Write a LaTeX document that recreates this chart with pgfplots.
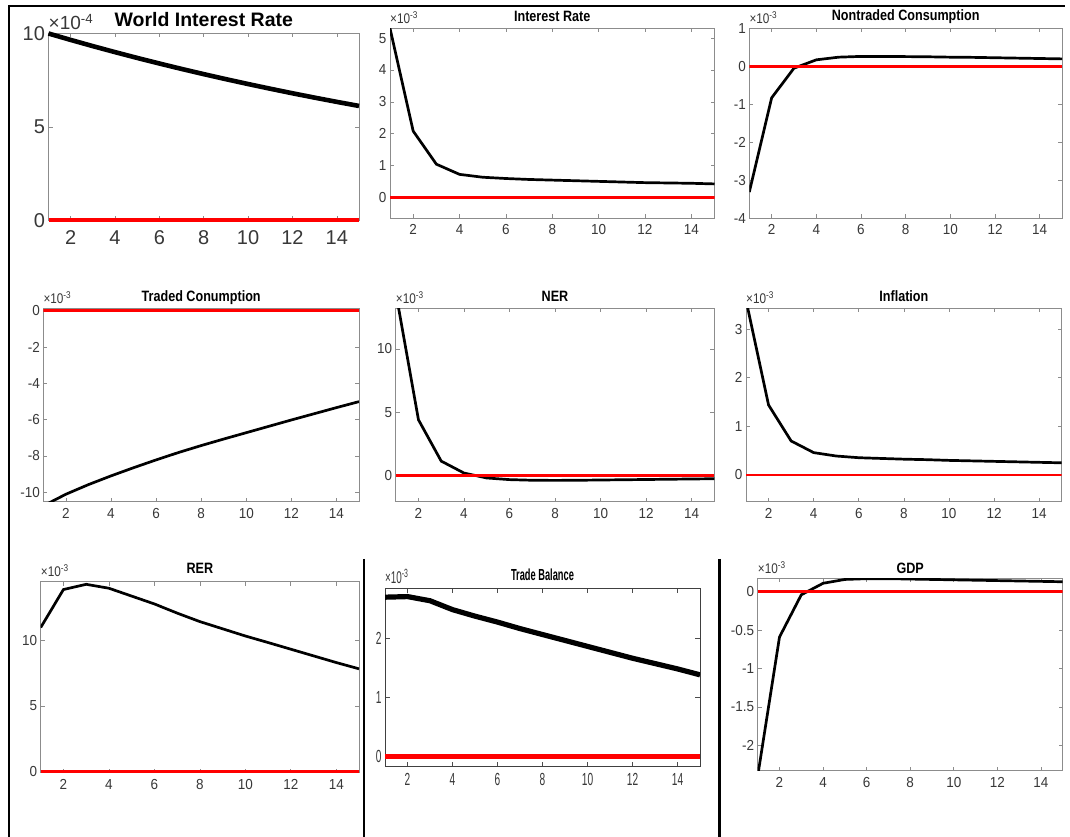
\documentclass[border=0pt]{standalone}
\usepackage{fontspec}
\usepackage{pgfplots}
\pgfplotsset{compat=1.18}
\setmainfont{Liberation Sans}
\newfontfamily\tickfont[FakeStretch=0.93]{Liberation Sans}
\newfontfamily\titlefont[FakeStretch=0.84]{Liberation Sans}
\newfontfamily\condfont[FakeStretch=0.58]{Liberation Sans}

\definecolor{axgray}{gray}{0.55}
\definecolor{lblgray}{gray}{0.22}

% Impulse responses, one table per panel (values in units of the exponent shown on each panel)
\pgfplotstableread{
t  v
1  10.000
2  9.656
3  9.324
4  9.003
5  8.693
6  8.394
7  8.105
8  7.826
9  7.557
10 7.297
11 7.046
12 6.803
13 6.569
14 6.343
15 6.125
}\worldrate
\pgfplotstableread{
t  v
1  5.31
2  2.08
3  1.04
4  0.72
5  0.63
6  0.59
7  0.56
8  0.54
9  0.52
10 0.50
11 0.48
12 0.46
13 0.45
14 0.44
15 0.42
}\intrate
\pgfplotstableread{
t  v
1  -3.31
2  -0.83
3  -0.05
4  0.17
5  0.24
6  0.26
7  0.26
8  0.255
9  0.25
10 0.24
11 0.235
12 0.225
13 0.215
14 0.205
15 0.195
}\nontraded
\pgfplotstableread{
t  v
1  -10.75
2  -10.11
3  -9.58
4  -9.10
5  -8.65
6  -8.22
7  -7.81
8  -7.43
9  -7.07
10 -6.72
11 -6.37
12 -6.02
13 -5.68
14 -5.34
15 -5.01
}\traded
\pgfplotstableread{
t  v
1  14.5
2  4.41
3  1.15
4  0.21
5  -0.18
6  -0.31
7  -0.36
8  -0.37
9  -0.36
10 -0.34
11 -0.32
12 -0.30
13 -0.28
14 -0.26
15 -0.24
}\ner
\pgfplotstableread{
t  v
1  3.60
2  1.44
3  0.70
4  0.46
5  0.39
6  0.355
7  0.34
8  0.325
9  0.315
10 0.30
11 0.29
12 0.28
13 0.27
14 0.26
15 0.25
}\inflation
\pgfplotstableread{
t  v
1  11.0
2  13.9
3  14.3
4  14.0
5  13.4
6  12.8
7  12.1
8  11.45
9  10.9
10 10.35
11 9.85
12 9.34
13 8.83
14 8.32
15 7.84
}\rer
\pgfplotstableread{
t  v
1  2.69
2  2.70
3  2.63
4  2.48
5  2.37
6  2.27
7  2.16
8  2.06
9  1.96
10 1.86
11 1.76
12 1.66
13 1.57
14 1.48
15 1.38
}\tradebal
\pgfplotstableread{
t  v
1  -2.40
2  -0.59
3  -0.04
4  0.11
5  0.16
6  0.17
7  0.17
8  0.165
9  0.16
10 0.155
11 0.15
12 0.145
13 0.14
14 0.135
15 0.13
}\gdp
\pgfplotstableread{
t  v
1  0
15 0
}\zeroline

\pgfplotsset{
  irf/.style={
    scale only axis,
    anchor=south west,
    clip mode=individual,
    xmin=1, xmax=15,
    xtick={2,4,...,14},
    xticklabels={2,4,6,8,10,12,14},
    tick align=inside,
    major tick length=4pt,
    every tick/.style={axgray, line width=0.6pt},
    axis line style={axgray, line width=0.8pt},
    ticklabel style={text=lblgray, font=\fontsize{14.5}{15}\tickfont},
    xticklabel style={yshift=-3pt},
  },
  resp/.style={black, line width=2.7pt},
  zero/.style={red, line width=2.7pt},
}
\newcommand{\ptitle}[2][6.5]{\node[anchor=base, inner sep=0pt, font=\fontsize{15}{16}\titlefont\bfseries] at (rel axis cs:0.5,1) [yshift=#1pt] {#2};}
\newcommand{\pexp}[1]{\node[anchor=base west, inner sep=0pt, text=lblgray, font=\fontsize{14}{15}\titlefont] at (rel axis cs:0,1) [yshift=5pt] {×10\textsuperscript{#1}};}

\begin{document}
\begin{tikzpicture}
\useasboundingbox (0pt,0pt) rectangle (1070pt,837pt);
\fill[white] (0pt,0pt) rectangle (1070pt,837pt);

% table rules
\draw[black, line width=1.2pt] (8pt,831pt) -- (1065pt,831pt);
\foreach \a/\b in {8/22, 360/377, 715/732, 1055/1065}
  \draw[black, line width=2.6pt] (\a pt,831pt) -- (\b pt,831pt);
\draw[black, line width=2.2pt] (9pt,832pt) -- (9pt,0pt);
\draw[black, line width=2.6pt] (364pt,278pt) -- (364pt,0pt);
\draw[black, line width=2.6pt] (719.5pt,278pt) -- (719.5pt,0pt);

% ---------- World Interest Rate ----------
\begin{axis}[irf, at={(48.5pt,616.5pt)}, width=310.5pt, height=187pt,
  ymin=0, ymax=10, ytick={0,5,10}, yticklabels={0,5,10},
  ticklabel style={font=\fontsize{20}{21}\selectfont},
  xticklabel style={yshift=-4pt}, clip=false]
\addplot[black, line width=4.6pt] table[x=t, y=v] {\worldrate};
\addplot[red, line width=4pt] table[x=t, y=v] {\zeroline};
\node[anchor=base, inner sep=0pt, font=\fontsize{19.5}{20}\selectfont\bfseries] at (rel axis cs:0.5,1) [yshift=6.8pt] {World Interest Rate};
\node[anchor=base west, inner sep=0pt, text=lblgray, font=\fontsize{19}{20}\selectfont] at (rel axis cs:0,1) [yshift=3.5pt] {×10\textsuperscript{-4}};
\end{axis}

% ---------- Interest Rate ----------
\begin{axis}[irf, at={(390pt,618.7pt)}, width=324.5pt, height=190pt,
  ymin=-0.66, ymax=5.31, ytick={0,...,5}, yticklabels={0,1,2,3,4,5}]
\addplot[resp] table[x=t, y=v] {\intrate};
\addplot[zero] table[x=t, y=v] {\zeroline};
\ptitle{Interest Rate}
\pexp{-3}
\end{axis}

% ---------- Nontraded Consumption ----------
\begin{axis}[irf, at={(749.3pt,618.7pt)}, width=312.7pt, height=190pt,
  ymin=-4, ymax=1, ytick={-4,...,1}, yticklabels={-4,-3,-2,-1,0,1}]
\addplot[resp] table[x=t, y=v] {\nontraded};
\addplot[zero] table[x=t, y=v] {\zeroline};
\ptitle[7.3]{Nontraded Consumption}
\pexp{-3}
\end{axis}

% ---------- Traded Consumption ----------
\begin{axis}[irf, at={(43.3pt,335.3pt)}, width=315.7pt, height=193.4pt,
  ymin=-10.52, ymax=0.13, ytick={-10,-8,...,0}, yticklabels={-10,-8,-6,-4,-2,0}]
\addplot[resp] table[x=t, y=v] {\traded};
\addplot[zero] table[x=t, y=v] {\zeroline};
\ptitle{Traded Conumption}
\pexp{-3}
\end{axis}

% ---------- NER ----------
\begin{axis}[irf, at={(395.7pt,335.3pt)}, width=318.6pt, height=193.4pt,
  ymin=-2.05, ymax=13.2, ytick={0,5,10}, yticklabels={0,5,10}]
\addplot[resp] table[x=t, y=v] {\ner};
\addplot[zero] table[x=t, y=v] {\zeroline};
\ptitle{NER}
\pexp{-3}
\end{axis}

% ---------- Inflation ----------
\begin{axis}[irf, at={(746pt,335.3pt)}, width=315.7pt, height=193.4pt,
  ymin=-0.55, ymax=3.43, ytick={0,...,3}, yticklabels={0,1,2,3}]
\addplot[resp] table[x=t, y=v] {\inflation};
\addplot[zero] table[x=t, y=v] {\zeroline};
\ptitle{Inflation}
\pexp{-3}
\end{axis}

% ---------- RER ----------
\begin{axis}[irf, at={(40.7pt,64.3pt)}, width=318.3pt, height=191pt,
  ymin=-0.1, ymax=14.5, ytick={0,5,10}, yticklabels={0,5,10}]
\addplot[resp] table[x=t, y=v] {\rer};
\addplot[zero] table[x=t, y=v] {\zeroline};
\ptitle[8.4]{RER}
\pexp{-3}
\end{axis}

% ---------- Trade Balance ----------
\begin{axis}[irf, at={(385pt,70.3pt)}, width=315pt, height=178.4pt,
  ymin=-0.17, ymax=2.84, ytick={0,1,2}, yticklabels={0,1,2},
  axis line style={black!75, line width=1pt},
  every tick/.style={black!70, line width=0.7pt}, major tick length=5pt,
  ticklabel style={font=\fontsize{17.5}{18}\condfont}]
\addplot[black, line width=5.2pt] table[x=t, y=v] {\tradebal};
\addplot[red, line width=5.2pt] table[x=t, y=v] {\zeroline};
\node[anchor=base, inner sep=0pt, font=\fontsize{16}{17}\condfont\bfseries] at (rel axis cs:0.5,1) [yshift=7.3pt] {Trade Balance};
\node[anchor=base west, inner sep=0pt, text=lblgray, font=\fontsize{17}{18}\condfont] at (rel axis cs:0,1) [yshift=5pt] {×10\textsuperscript{-3}};
\end{axis}

% ---------- GDP ----------
\begin{axis}[irf, at={(757.7pt,66.3pt)}, width=305pt, height=192.4pt,
  ymin=-2.33, ymax=0.175, ytick={-2,-1.5,...,0}, yticklabels={-2,-1.5,-1,-0.5,0}]
\addplot[resp] table[x=t, y=v] {\gdp};
\addplot[zero] table[x=t, y=v] {\zeroline};
\ptitle[5]{GDP}
\pexp{-3}
\end{axis}
\end{tikzpicture}
\end{document}
